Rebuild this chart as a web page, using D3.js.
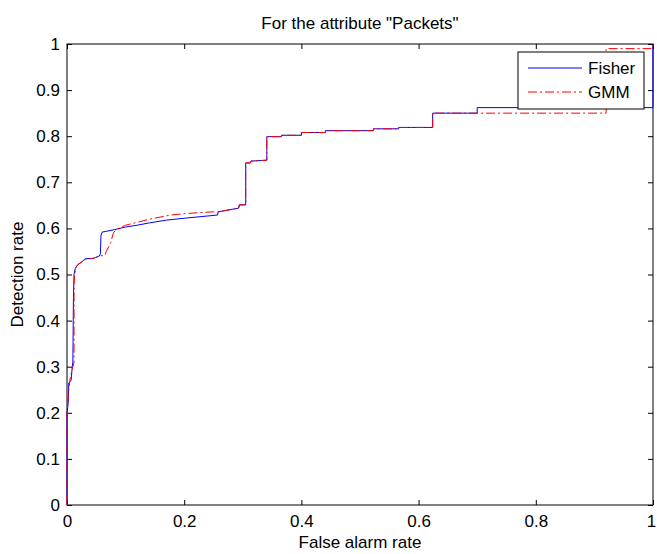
<!DOCTYPE html>
<html>
<head>
<meta charset="utf-8">
<script src="https://cdn.jsdelivr.net/npm/d3@7"></script>
<style>
  body { margin: 0; background: #fff; overflow: hidden; }
  text { font-family: "Liberation Sans", Arial, sans-serif; }
</style>
</head>
<body>
<div id="chart"></div>
<script>
// ROC curves for the "Packets" attribute, points are [false alarm rate, detection rate]
const fisherPoints = [
    [0, 0], [0, 0.2], [0.002, 0.22], [0.003, 0.265], [0.007, 0.27], [0.009, 0.3],
    [0.010, 0.31], [0.011, 0.45], [0.012, 0.50], [0.014, 0.513], [0.018, 0.521],
    [0.025, 0.527], [0.031, 0.534], [0.045, 0.535], [0.055, 0.54], [0.057, 0.545],
    [0.058, 0.585], [0.060, 0.592], [0.08, 0.597], [0.10, 0.603], [0.12, 0.607],
    [0.141, 0.612], [0.17, 0.618], [0.20, 0.622], [0.257, 0.629], [0.258, 0.636],
    [0.293, 0.644], [0.294, 0.651], [0.305, 0.651], [0.305, 0.742], [0.313, 0.742],
    [0.314, 0.746], [0.341, 0.748], [0.341, 0.799], [0.366, 0.799], [0.366, 0.802],
    [0.40, 0.802], [0.40, 0.808], [0.441, 0.808], [0.441, 0.812], [0.523, 0.812],
    [0.523, 0.816], [0.566, 0.816], [0.566, 0.819], [0.624, 0.819], [0.624, 0.85],
    [0.70, 0.85], [0.70, 0.862], [1, 0.862], [1, 1]
];

const gmmPoints = [
    [0, 0], [0, 0.2], [0.003, 0.25], [0.006, 0.28], [0.010, 0.30], [0.012, 0.31],
    [0.012, 0.48], [0.013, 0.50], [0.016, 0.518], [0.022, 0.525], [0.031, 0.533],
    [0.045, 0.535], [0.055, 0.54], [0.065, 0.542], [0.067, 0.55], [0.075, 0.57],
    [0.078, 0.586], [0.080, 0.592], [0.085, 0.598], [0.10, 0.607], [0.141, 0.62],
    [0.177, 0.629], [0.20, 0.632], [0.25, 0.636], [0.258, 0.636], [0.293, 0.644],
    [0.294, 0.651], [0.305, 0.651], [0.305, 0.742], [0.313, 0.742], [0.314, 0.746],
    [0.341, 0.748], [0.341, 0.799], [0.366, 0.799], [0.366, 0.802], [0.40, 0.802],
    [0.40, 0.808], [0.441, 0.808], [0.441, 0.812], [0.523, 0.812], [0.523, 0.816],
    [0.566, 0.816], [0.566, 0.819], [0.624, 0.819], [0.624, 0.85], [0.92, 0.85],
    [0.92, 0.99], [1, 0.99], [1, 1]
];

const xTicks = [0, 0.2, 0.4, 0.6, 0.8, 1];
const yTicks = [0, 0.1, 0.2, 0.3, 0.4, 0.5, 0.6, 0.7, 0.8, 0.9, 1];
const seriesNames = ["Fisher", "GMM"];

const titleText = 'For the attribute "Packets"';
const xLabel = "False alarm rate";
const yLabel = "Detection rate";

const width = 657;
const height = 554;
const margin = {top: 44, right: 4, bottom: 49, left: 67};
const innerWidth = width - margin.left - margin.right;
const innerHeight = height - margin.top - margin.bottom;
const fontSize = "17px";

const svg = d3.select("#chart")
    .append("svg")
    .attr("width", width)
    .attr("height", height)
    .style("display", "block");

const chart = svg.append("g")
    .attr("transform", `translate(${margin.left}, ${margin.top})`);

const xScale = d3.scaleLinear().domain([0, 1]).range([0, innerWidth]);
const yScale = d3.scaleLinear().domain([0, 1]).range([innerHeight, 0]);

// MATLAB style: inward ticks on all four sides
const fmt = d => d === 0 || d === 1 ? String(d) : d3.format(".1f")(d);

const xAxisBottom = chart.append("g")
    .attr("transform", `translate(0, ${innerHeight})`)
    .call(d3.axisBottom(xScale).tickValues(xTicks).tickFormat(fmt).tickSizeInner(-5).tickSizeOuter(0).tickPadding(10));
const xAxisTop = chart.append("g")
    .call(d3.axisTop(xScale).tickValues(xTicks).tickSizeInner(-5).tickSizeOuter(0));
const yAxisLeft = chart.append("g")
    .call(d3.axisLeft(yScale).tickValues(yTicks).tickFormat(fmt).tickSizeInner(-5).tickSizeOuter(0).tickPadding(7));
const yAxisRight = chart.append("g")
    .attr("transform", `translate(${innerWidth}, 0)`)
    .call(d3.axisRight(yScale).tickValues(yTicks).tickSizeInner(-5).tickSizeOuter(0));

// top and right axes carry ticks only
xAxisTop.selectAll("text").remove();
yAxisRight.selectAll("text").remove();

[xAxisBottom, xAxisTop, yAxisLeft, yAxisRight].forEach(ax => {
    ax.select(".domain").remove();
    ax.selectAll("line").attr("stroke", "#000");
    ax.selectAll("text")
        .style("font-size", fontSize)
        .style("font-family", '"Liberation Sans", Arial, sans-serif')
        .attr("fill", "#000");
});

// keep the last x label inside the window
xAxisBottom.selectAll(".tick text")
    .filter(d => d === 1)
    .attr("dx", "-2");

// axes box
chart.append("rect")
    .attr("x", 0)
    .attr("y", 0)
    .attr("width", innerWidth)
    .attr("height", innerHeight)
    .attr("fill", "none")
    .attr("stroke", "#000")
    .attr("stroke-width", 1);

const line = d3.line()
    .x(d => xScale(d[0]))
    .y(d => yScale(d[1]));

chart.append("path")
    .datum(fisherPoints)
    .attr("d", line)
    .attr("fill", "none")
    .attr("stroke", "#0000ff")
    .attr("stroke-width", 1);

chart.append("path")
    .datum(gmmPoints)
    .attr("d", line)
    .attr("fill", "none")
    .attr("stroke", "#ff0000")
    .attr("stroke-width", 1)
    .attr("stroke-dasharray", "9,3,2,3");

// title and axis labels
svg.append("text")
    .attr("x", margin.left + innerWidth / 2)
    .attr("y", 29)
    .attr("text-anchor", "middle")
    .style("font-size", fontSize)
    .text(titleText);

svg.append("text")
    .attr("x", margin.left + innerWidth / 2)
    .attr("y", 548)
    .attr("text-anchor", "middle")
    .style("font-size", fontSize)
    .text(xLabel);

svg.append("text")
    .attr("transform", `translate(23, ${margin.top + innerHeight / 2}) rotate(-90)`)
    .attr("text-anchor", "middle")
    .style("font-size", fontSize)
    .text(yLabel);

// legend
const legend = svg.append("g")
    .attr("transform", "translate(518, 52)");

legend.append("rect")
    .attr("width", 126)
    .attr("height", 57)
    .attr("fill", "#fff")
    .attr("stroke", "#000")
    .attr("stroke-width", 1);

const legendStyles = [
    {color: "#0000ff", dash: null},
    {color: "#ff0000", dash: "9,3,2,3"}
];

seriesNames.forEach((name, i) => {
    const y = 16 + i * 24;
    legend.append("line")
        .attr("x1", 10)
        .attr("x2", 64)
        .attr("y1", y)
        .attr("y2", y)
        .attr("stroke", legendStyles[i].color)
        .attr("stroke-width", 1)
        .attr("stroke-dasharray", legendStyles[i].dash);
    legend.append("text")
        .attr("x", 70)
        .attr("y", y + 6)
        .style("font-size", fontSize)
        .text(name);
});
</script>
</body>
</html>
